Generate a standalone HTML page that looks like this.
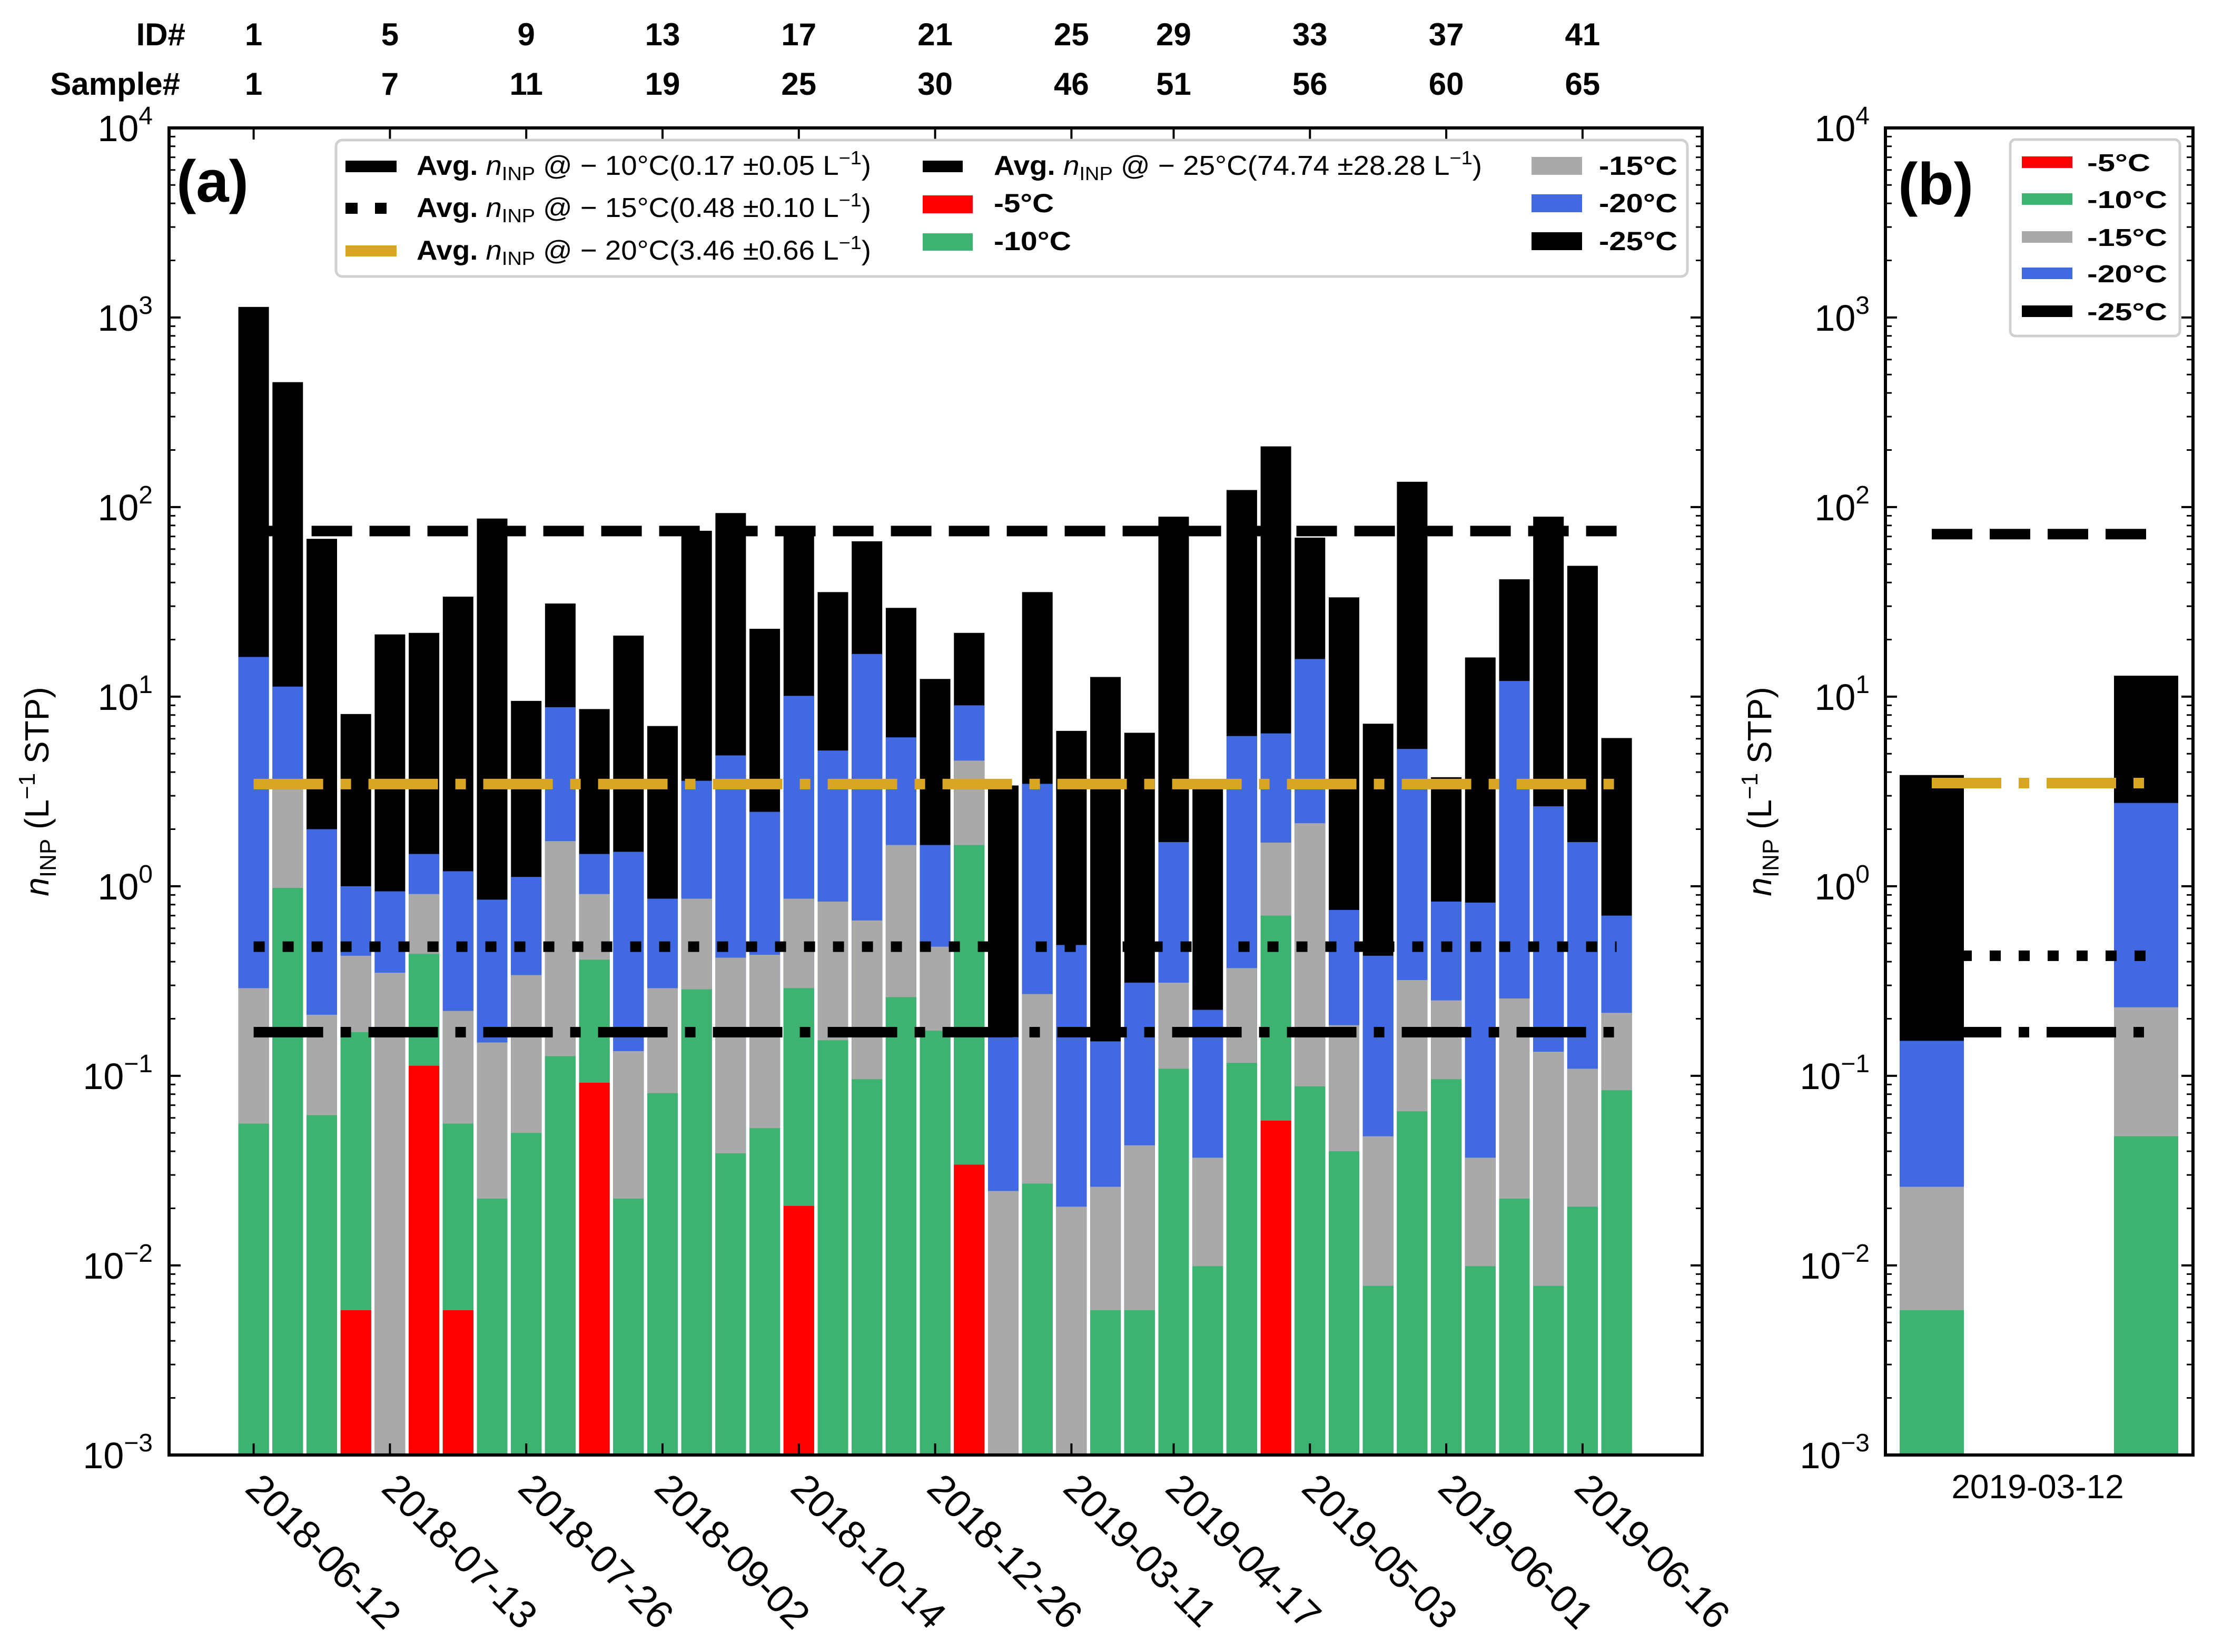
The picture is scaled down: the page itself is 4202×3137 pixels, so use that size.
<!DOCTYPE html>
<html><head><meta charset="utf-8">
<style>
html,body{margin:0;padding:0;background:#fff;}
svg{display:block;font-family:"Liberation Sans",sans-serif;}
</style></head>
<body>
<svg id="fig" xmlns="http://www.w3.org/2000/svg" width="4202" height="3137" viewBox="0 0 4202 3137">
<rect x="0" y="0" width="4202" height="3137" fill="#fff"/>
<g id="panelA"></g>
<g id="panelB"></g>
</svg>
<script>
// ---- data panel (a) ----
const idLabels = [1,5,9,13,17,21,25,29,33,37,41];
const sampleLabels = [1,7,11,19,25,30,46,51,56,60,65];
const dateLabels = ["2018-06-12","2018-07-13","2018-07-26","2018-09-02","2018-10-14","2018-12-26","2019-03-11","2019-04-17","2019-05-03","2019-06-01","2019-06-16"];
const tickBars = [1,5,9,13,17,21,25,28,32,36,40];
const vals25 = [1137,456,68,8.1,21.3,21.7,33.7,87,9.5,31,8.6,21,7.0,75,93,22.8,75,35.6,66,29.4,12.4,21.7,3.4,35.6,6.6,12.7,6.45,89,3.4,123,209,69,33.4,7.2,136,3.76,16.1,41.6,89,49,6.05];
const vals20 = [16.2,11.3,2.0,1.0,0.94,1.48,1.2,0.85,1.12,8.8,1.48,1.52,0.86,3.6,4.9,2.47,10.1,5.2,16.8,6.1,1.65,9.0,0.16,3.47,0.49,0.152,0.31,1.71,0.223,6.2,6.4,15.8,0.75,0.43,5.3,0.83,0.82,12.1,2.64,1.71,0.70];
const vals15 = [0.29,3.4,0.21,0.43,0.35,0.91,0.22,0.15,0.34,1.73,0.91,0.135,0.29,0.86,0.42,0.435,0.86,0.83,0.66,1.65,0.48,4.6,0.0247,0.27,0.0204,0.026,0.043,0.31,0.037,0.37,1.70,2.15,0.185,0.048,0.32,0.25,0.037,0.256,0.134,0.109,0.215];
const vals10 = [0.056,0.98,0.062,0.17,0,0.44,0.056,0.0225,0.050,0.127,0.41,0.0225,0.081,0.286,0.039,0.053,0.29,0.154,0.096,0.26,0.173,1.65,0,0.027,0,0.0058,0.0058,0.109,0.0099,0.117,0.70,0.088,0.040,0.0078,0.065,0.096,0.0099,0.0225,0.0078,0.0204,0.084];
const vals5 = [0,0,0,0.0058,0,0.113,0.0058,0,0,0,0.092,0,0,0,0,0,0.0206,0,0,0,0,0.034,0,0,0,0,0,0,0,0,0.058,0,0,0,0,0,0,0,0,0,0];
const avgA = [0.17,0.48,3.46,74.74];
// ---- data panel (b) ----
const bDate = "2019-03-12";
const bVals25 = [3.86,12.9];
const bVals20 = [0.153,2.75];
const bVals15 = [0.026,0.23];
const bVals10 = [0.0058,0.048];
const bVals5 = [0,0];
const avgB = [0.17,0.43,3.5,72];

const NS = "http://www.w3.org/2000/svg";
function mk(tag, attrs, parent){ const e=document.createElementNS(NS,tag); for(const k in attrs) e.setAttribute(k,attrs[k]); parent.appendChild(e); return e; }
const Y0=242.9, DEC=360;
function yScale(v){ return Y0 + (4-Math.log10(v))*DEC; }
const YBOT = yScale(0.001);
function xA(i){ return 481.6 + (i-1)*64.7; }
function xB(j){ return 3668 + j*407; }
const colors = ["#000000","#4169e1","#a9a9a9","#3cb371","#ff0000"];
const names = ["bar-minus25c","bar-minus20c","bar-minus15c","bar-minus10c","bar-minus5c"];
const lineStyles = [
  {c:"#000",d:"132 33 20 33",n:"avg-line-minus10c"},
  {c:"#000",d:"21 34",n:"avg-line-minus15c"},
  {c:"#daa520",d:"132 33 20 33",n:"avg-line-minus20c"},
  {c:"#000",d:"77 33",n:"avg-line-minus25c"}];

const gA=document.getElementById('panelA');
const gB=document.getElementById('panelB');

function drawBars(g, series, xf, w){
  series.forEach((arr,s)=>{
    arr.forEach((v,i)=>{
      if(!v) return;
      const y=yScale(v);
      const r=mk('rect',{x:xf(i)-w/2,y:y,width:w,height:YBOT-y,fill:colors[s]},g);
      
      
    });
  });
}
drawBars(gA,[vals25,vals20,vals15,vals10,vals5],i=>xA(i+1),58);
drawBars(gB,[bVals25,bVals20,bVals15,bVals10,bVals5],xB,122);

function drawAvg(g, vals, x1, x2){
  vals.forEach((v,k)=>{
    const y=yScale(v);
    const l=mk('line',{x1:x1,x2:x2,y1:y,y2:y,stroke:lineStyles[k].c,'stroke-width':20,'stroke-dasharray':lineStyles[k].d},g);
    
    
  });
}
drawAvg(gA, avgA, xA(1), xA(41));
drawAvg(gB, avgB, xB(0), xB(1));

function yAxis(g, L, R, labelRight){
  for(let k=-3;k<=4;k++){
    const y=yScale(Math.pow(10,k));
    const t1=mk('line',{x1:L,x2:L+22,y1:y,y2:y,stroke:'#000','stroke-width':4},g);
    
    
    const t2=mk('line',{x1:R,x2:R-22,y1:y,y2:y,stroke:'#000','stroke-width':4},g);
    
    
    const tx=mk('text',{x:labelRight,y:y+25,'text-anchor':'end','font-size':70},g);
    
    
    const a=mk('tspan',{},tx); a.textContent='10';
    const b=mk('tspan',{'font-size':48,dy:-32},tx); b.textContent=(k<0?'\u2212':'')+Math.abs(k);
    if(k<4){ for(let m=2;m<=9;m++){
      const ym=yScale(m*Math.pow(10,k));
      const n1=mk('line',{x1:L,x2:L+12,y1:ym,y2:ym,stroke:'#000','stroke-width':3},g);
      
      
      const n2=mk('line',{x1:R,x2:R-12,y1:ym,y2:ym,stroke:'#000','stroke-width':3},g);
      
      
    }}
  }
}
yAxis(gA,321,3232,290);
yAxis(gB,3580,4164,3550);

tickBars.forEach((b,i)=>{
  const x=xA(b);
  const t=mk('line',{x1:x,x2:x,y1:YBOT,y2:YBOT-22,stroke:'#000','stroke-width':4},gA);
  
  
  const t2=mk('line',{x1:x,x2:x,y1:Y0,y2:Y0+22,stroke:'#000','stroke-width':4},gA);
  
  
  const d=mk('text',{transform:`translate(${x-19},2830) rotate(45)`,'font-size':74,'text-anchor':'start'},gA);
  
  
  d.textContent=dateLabels[i];
  const id=mk('text',{x:x,y:86,'text-anchor':'middle','font-size':60,'font-weight':'bold'},gA);
  
  
  id.textContent=idLabels[i];
  const sm=mk('text',{x:x,y:180,'text-anchor':'middle','font-size':60,'font-weight':'bold'},gA);
  
  
  sm.textContent=sampleLabels[i];
});

const fA=mk('rect',{x:321,y:Y0,width:3232-321,height:YBOT-Y0,fill:'none',stroke:'#000','stroke-width':6},gA);


const fB=mk('rect',{x:3580,y:Y0,width:4164-3580,height:YBOT-Y0,fill:'none',stroke:'#000','stroke-width':6},gB);



const bd=mk('text',{x:3869,y:2845,'text-anchor':'middle','font-size':64},gB);


bd.textContent=bDate;
</script>

<svg xmlns="http://www.w3.org/2000/svg" width="4202" height="3137" viewBox="0 0 4202 3137" style="position:absolute;left:0;top:0;font-family:'Liberation Sans',sans-serif;">
<text x="352" y="86" text-anchor="end" font-size="60" font-weight="bold">ID#</text>
<text x="342" y="180" text-anchor="end" font-size="60" font-weight="bold">Sample#</text>
<text x="335" y="383" font-size="112" font-weight="bold">(a)</text>
<text x="3604" y="388" font-size="112" font-weight="bold">(b)</text>
<text transform="translate(92,1503) rotate(-90)" text-anchor="middle" font-size="64"><tspan font-style="italic">n</tspan><tspan font-size="44" dy="14">INP</tspan><tspan dy="-14"> (L</tspan><tspan font-size="44" dy="-26">−1</tspan><tspan dy="26"> STP)</tspan></text>
<text transform="translate(3363,1503) rotate(-90)" text-anchor="middle" font-size="64"><tspan font-style="italic">n</tspan><tspan font-size="44" dy="14">INP</tspan><tspan dy="-14"> (L</tspan><tspan font-size="44" dy="-26">−1</tspan><tspan dy="26"> STP)</tspan></text>

<g>
<rect x="638" y="266" width="2566" height="259" rx="12" fill="#fff" stroke="#d0d0d0" stroke-width="5"/>
<rect x="656" y="305" width="97" height="22" fill="#000"/>
<rect x="656" y="385" width="23" height="21" fill="#000"/>
<rect x="712" y="385" width="22" height="21" fill="#000"/>
<rect x="656" y="466" width="97" height="21" fill="#daa520"/>
<text x="791" y="332" font-size="52" textLength="863" lengthAdjust="spacingAndGlyphs"><tspan font-weight="bold">Avg. </tspan><tspan font-style="italic">n</tspan><tspan font-size="36" dy="10">INP</tspan><tspan dy="-10"> @ − 10°C(0.17 ±0.05 L</tspan><tspan font-size="36" dy="-20">−1</tspan><tspan dy="20">)</tspan></text>
<text x="791" y="412" font-size="52" textLength="863" lengthAdjust="spacingAndGlyphs"><tspan font-weight="bold">Avg. </tspan><tspan font-style="italic">n</tspan><tspan font-size="36" dy="10">INP</tspan><tspan dy="-10"> @ − 15°C(0.48 ±0.10 L</tspan><tspan font-size="36" dy="-20">−1</tspan><tspan dy="20">)</tspan></text>
<text x="791" y="493" font-size="52" textLength="863" lengthAdjust="spacingAndGlyphs"><tspan font-weight="bold">Avg. </tspan><tspan font-style="italic">n</tspan><tspan font-size="36" dy="10">INP</tspan><tspan dy="-10"> @ − 20°C(3.46 ±0.66 L</tspan><tspan font-size="36" dy="-20">−1</tspan><tspan dy="20">)</tspan></text>
<rect x="1752" y="305" width="76" height="22" fill="#000"/>
<text x="1887" y="332" font-size="52" textLength="927" lengthAdjust="spacingAndGlyphs"><tspan font-weight="bold">Avg. </tspan><tspan font-style="italic">n</tspan><tspan font-size="36" dy="10">INP</tspan><tspan dy="-10"> @ − 25°C(74.74 ±28.28 L</tspan><tspan font-size="36" dy="-20">−1</tspan><tspan dy="20">)</tspan></text>
<rect x="1752" y="371" width="95" height="34" fill="#ff0000"/>
<text x="1887" y="403" font-size="50" font-weight="bold" textLength="114" lengthAdjust="spacingAndGlyphs">-5°C</text>
<rect x="1752" y="443" width="95" height="33" fill="#3cb371"/>
<text x="1887" y="475" font-size="50" font-weight="bold" textLength="147" lengthAdjust="spacingAndGlyphs">-10°C</text>
<rect x="2908" y="298" width="96" height="34" fill="#a9a9a9"/>
<text x="3036" y="332" font-size="50" font-weight="bold" textLength="149" lengthAdjust="spacingAndGlyphs">-15°C</text>
<rect x="2908" y="369" width="96" height="34" fill="#4169e1"/>
<text x="3036" y="403" font-size="50" font-weight="bold" textLength="149" lengthAdjust="spacingAndGlyphs">-20°C</text>
<rect x="2908" y="441" width="96" height="34" fill="#000"/>
<text x="3036" y="475" font-size="50" font-weight="bold" textLength="149" lengthAdjust="spacingAndGlyphs">-25°C</text>
</g>

<g>
<rect x="3817" y="265" width="322" height="373" rx="10" fill="#fff" stroke="#d0d0d0" stroke-width="5"/>
<rect x="3839" y="297" width="96" height="22" fill="#ff0000"/>
<rect x="3839" y="367" width="96" height="22" fill="#3cb371"/>
<rect x="3839" y="439" width="96" height="22" fill="#a9a9a9"/>
<rect x="3839" y="508" width="96" height="22" fill="#4169e1"/>
<rect x="3839" y="580" width="96" height="22" fill="#000"/>
<text x="3963" y="325" font-size="46" font-weight="bold" textLength="120" lengthAdjust="spacingAndGlyphs">-5°C</text>
<text x="3963" y="395" font-size="46" font-weight="bold" textLength="152" lengthAdjust="spacingAndGlyphs">-10°C</text>
<text x="3963" y="467" font-size="46" font-weight="bold" textLength="152" lengthAdjust="spacingAndGlyphs">-15°C</text>
<text x="3963" y="536" font-size="46" font-weight="bold" textLength="152" lengthAdjust="spacingAndGlyphs">-20°C</text>
<text x="3963" y="608" font-size="46" font-weight="bold" textLength="152" lengthAdjust="spacingAndGlyphs">-25°C</text>
</g>
</svg>
</body></html>
